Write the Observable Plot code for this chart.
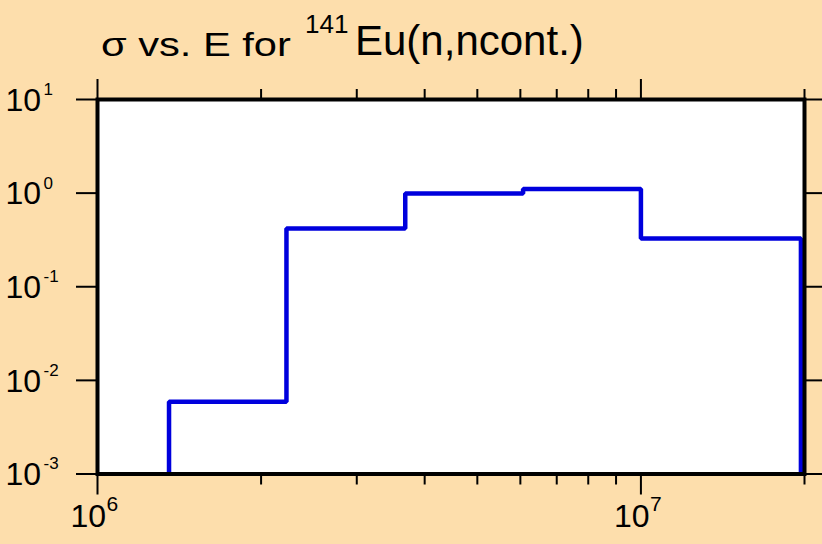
<!DOCTYPE html>
<html>
<head>
<meta charset="utf-8">
<script src="https://cdn.jsdelivr.net/npm/d3@7"></script>
<script src="https://cdn.jsdelivr.net/npm/@observablehq/plot@0.6"></script>
<style>
  html, body { margin: 0; padding: 0; background: #fddeac; }
  #wrap { position: relative; width: 822px; height: 544px; background: #fddeac; overflow: hidden; font-family: "Liberation Sans", Arial, sans-serif; color: #000; }
  .tp { position: absolute; white-space: nowrap; transform-origin: 0 0; }
  #t1 { left: 101px; top: 28.5px; font-size: 32.5px; line-height: 32.5px; transform: scaleX(1.28); }
  #t2 { left: 305px; top: 11.3px; font-size: 26px; line-height: 26px; }
  #t3 { left: 355px; top: 20.4px; font-size: 42px; line-height: 42px; }
  #chart { position: absolute; left: 0; top: 70px; }
</style>
</head>
<body>
<div id="wrap">
  <div id="title">
    <span class="tp" id="t1">σ vs. E for</span><span class="tp" id="t2">141</span><span class="tp" id="t3">Eu(n,ncont.)</span>
  </div>
  <div id="chart"></div>
</div>
<script>
// Energy bin edges (eV) and cross sections (b) for the histogram
const edges = [1.354e6, 2.227e6, 3.684e6, 6.07e6, 1e7, 1.97e7];
const sigma = [0.0059, 0.418, 0.99, 1.11, 0.328];
const sigmaFloor = 1e-3;

// Axis ticks
const xMajorTicks = [1e6, 1e7];
const xMinorTicks = [2e6, 3e6, 4e6, 5e6, 6e6, 7e6, 8e6, 9e6, 2e7];
const xTickExponents = ["6", "7"];
const yMajorTicks = [1e-3, 1e-2, 1e-1, 1, 10];
const yTickExponents = ["-3", "-2", "-1", "0", "1"];
const tickBase = "10";

// Build step outline points
const pts = [{E: edges[0], s: sigmaFloor}];
sigma.forEach((v, i) => pts.push({E: edges[i], s: v}));
pts.push({E: edges[edges.length - 1], s: sigmaFloor});

const xLab = xMajorTicks.map((v, i) => ({v, e: xTickExponents[i]}));
const yLab = yMajorTicks.map((v, i) => ({v, e: yTickExponents[i]}));

const fam = "Liberation Sans, Arial, sans-serif";

const chart = Plot.plot({
  width: 822,
  height: 474,
  marginLeft: 97,
  marginRight: 18,
  marginTop: 29,
  marginBottom: 70.5,
  style: {background: "transparent", color: "black", fontFamily: fam, overflow: "visible"},
  x: {type: "log", domain: [1e6, 2e7]},
  y: {type: "log", domain: [1e-3, 10]},
  marks: [
    Plot.frame({fill: "white", stroke: null}),
    Plot.line(pts, {x: "E", y: "s", curve: "step-after", stroke: "#0000dd", strokeWidth: 4.5, strokeLinejoin: "miter", strokeLinecap: "butt"}),
    Plot.frame({stroke: "black", strokeWidth: 4}),
    Plot.axisX({anchor: "bottom", ticks: xMajorTicks, tickSize: 21, tickFormat: () => "", strokeWidth: 2, label: null}),
    Plot.axisX({anchor: "bottom", ticks: xMinorTicks, tickSize: 11, tickFormat: () => "", strokeWidth: 2, label: null}),
    Plot.axisX({anchor: "top", ticks: xMajorTicks, tickSize: 21, tickFormat: () => "", strokeWidth: 2, label: null}),
    Plot.axisX({anchor: "top", ticks: xMinorTicks, tickSize: 11, tickFormat: () => "", strokeWidth: 2, label: null}),
    Plot.axisY({anchor: "left", ticks: yMajorTicks, tickSize: 21, tickFormat: () => "", strokeWidth: 2, label: null}),
    Plot.axisY({anchor: "right", ticks: yMajorTicks, tickSize: 20, tickFormat: () => "", strokeWidth: 2, label: null}),
    // x tick labels: "10" + superscript exponent
    Plot.text(xLab, {x: "v", text: () => tickBase, frameAnchor: "bottom", textAnchor: "start", lineAnchor: "middle", dx: -27, dy: 43, fontSize: 32, fill: "black", ariaLabel: "xbase"}),
    Plot.text(xLab, {x: "v", text: "e", frameAnchor: "bottom", textAnchor: "start", lineAnchor: "middle", dx: 9, dy: 30, fontSize: 21, fill: "black", ariaLabel: "xsup"}),
    // y tick labels
    Plot.text(yLab, {y: "v", text: () => tickBase, frameAnchor: "left", textAnchor: "start", lineAnchor: "middle", dx: -92, dy: 1, fontSize: 32, fill: "black", ariaLabel: "ybase"}),
    Plot.text(yLab, {y: "v", text: "e", frameAnchor: "left", textAnchor: "start", lineAnchor: "middle", dx: -54, dy: -10, fontSize: 17, fill: "black", ariaLabel: "ysup"})
  ]
});
document.getElementById("chart").appendChild(chart);

// widen tick label glyphs like the reference's stretched lettering
function stretch(label, sx) {
  d3.select(chart).selectAll(`g[aria-label="${label}"] text`).each(function() {
    const b = this.getBBox();
    const t = this.getAttribute("transform") || "";
    this.setAttribute("transform", `${t} translate(${b.x},0) scale(${sx},1) translate(${-b.x},0)`);
  });
}
stretch("xbase", 1.05);
stretch("ybase", 1.08);
stretch("xsup", 1.3);
stretch("ysup", 1.5);
</script>
</body>
</html>
